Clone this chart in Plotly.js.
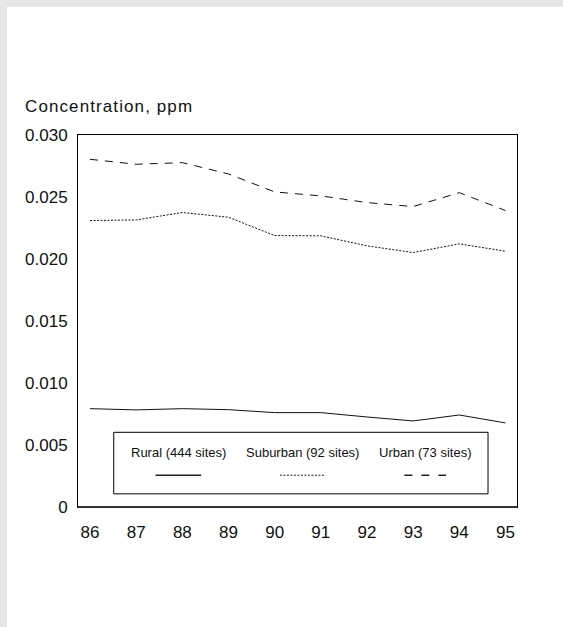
<!DOCTYPE html>
<html>
<head>
<meta charset="utf-8">
<script src="https://cdn.plot.ly/plotly-3.0.1.min.js"></script>
<style>
  html, body { margin: 0; padding: 0; background: #e6e6e6; width: 563px; height: 627px; overflow: hidden; }
  #chart { position: absolute; left: 7px; top: 7px; width: 556px; height: 620px; background: #ffffff; }
  #chart .gtitle { letter-spacing: 1.1px; }
</style>
</head>
<body>
<div id="chart"></div>
<script>
// Data (years 1986-1995, annual mean concentration, ppm)
const years = [86, 87, 88, 89, 90, 91, 92, 93, 94, 95];
const rural    = [0.00793, 0.00783, 0.00793, 0.00785, 0.00761, 0.00761, 0.00726, 0.00694, 0.00742, 0.00678];
const suburban = [0.02310, 0.02315, 0.02375, 0.02337, 0.02189, 0.02187, 0.02106, 0.02052, 0.02122, 0.02063];
const urban    = [0.02804, 0.02764, 0.02777, 0.02686, 0.02541, 0.02509, 0.02455, 0.02423, 0.02535, 0.02391];
const seriesNames = ["Rural (444 sites)", "Suburban (92 sites)", "Urban (73 sites)"];
const yTickVals = [0, 0.005, 0.010, 0.015, 0.020, 0.025, 0.030];
const yTickText = ["0", "0.005", "0.010", "0.015", "0.020", "0.025", "0.030"];
const xTickText = ["86", "87", "88", "89", "90", "91", "92", "93", "94", "95"];
const yTitle = "Concentration, ppm";

const FONT = "Liberation Sans, Arial, sans-serif";
const lineColor = "#111111";
const dashes = ["solid", "2px,1.5px", "8px,7px"];
const seriesData = [rural, suburban, urban];

const traces = seriesData.map((vals, i) => ({
  x: years, y: vals, type: "scatter", mode: "lines", name: seriesNames[i],
  line: { color: lineColor, width: 1, dash: dashes[i] },
  showlegend: false, hoverinfo: "skip"
}));

// Custom legend (text above line sample, boxed) in paper coordinates
const legendCenters = [0.2285, 0.511, 0.791];
const legendHalf = [0.052, 0.051, 0.0475];
const legendDash = ["solid", "2px,1.5px", "8px,9px"];
const shapes = [{
  type: "rect", xref: "paper", yref: "paper",
  x0: 0.0814, x1: 0.934, y0: 0.0354, y1: 0.2008,
  line: { color: "#000000", width: 1 }, fillcolor: "rgba(0,0,0,0)"
}, {
  // slightly heavier baseline as in the reference
  type: "line", xref: "paper", yref: "paper",
  x0: 0, x1: 1, y0: 0, y1: 0,
  line: { color: "#333333", width: 2 }
}];
const annotations = [];
seriesNames.forEach((nm, i) => {
  annotations.push({
    xref: "paper", yref: "paper", x: legendCenters[i], y: 0.1455,
    text: nm, showarrow: false, xanchor: "center", yanchor: "middle",
    font: { family: FONT, size: 13, color: "#111111" }
  });
  shapes.push({
    type: "line", xref: "paper", yref: "paper",
    x0: legendCenters[i] - legendHalf[i], x1: legendCenters[i] + legendHalf[i],
    y0: 0.0854, y1: 0.0854,
    line: { color: "#222222", width: i === 1 ? 1 : 1.5, dash: legendDash[i] }
  });
});

const layout = {
  width: 556, height: 620,
  margin: { l: 71, r: 46, t: 128, b: 120, pad: 0 },
  paper_bgcolor: "#ffffff", plot_bgcolor: "#ffffff",
  font: { family: FONT, size: 17, color: "#111111" },
  title: {
    text: yTitle, xref: "container", yref: "container",
    x: 0.0324, xanchor: "left", y: 0.840, yanchor: "middle",
    font: { family: FONT, size: 17, color: "#111111" }
  },
  xaxis: {
    range: [85.74, 95.25], tickvals: years, ticktext: xTickText,
    showgrid: false, zeroline: false, ticks: "",
    showline: true, linecolor: "#000000", linewidth: 1, mirror: true,
    ticklabelstandoff: 10, tickfont: { family: FONT, size: 17, color: "#111111" }
  },
  yaxis: {
    range: [0, 0.030], tickvals: yTickVals, ticktext: yTickText,
    showgrid: false, zeroline: false, ticks: "",
    showline: true, linecolor: "#000000", linewidth: 1, mirror: true,
    ticklabelstandoff: 6, tickfont: { family: FONT, size: 17, color: "#111111" }
  },
  shapes: shapes,
  annotations: annotations,
  showlegend: false
};

Plotly.newPlot("chart", traces, layout, { displayModeBar: false, staticPlot: true });
</script>
</body>
</html>
